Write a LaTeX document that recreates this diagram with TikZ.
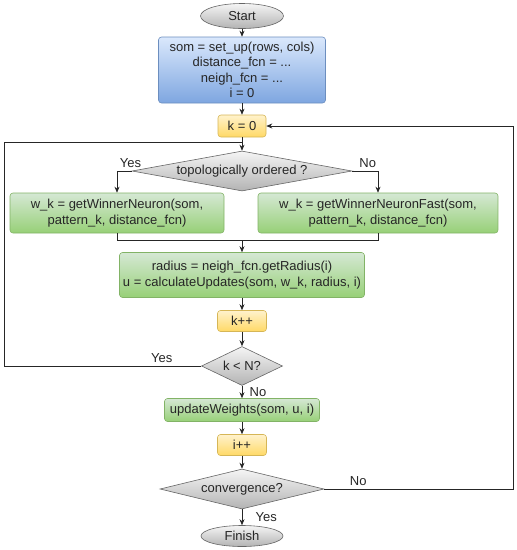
\documentclass[tikz,border=0pt]{standalone}
\usepackage{fontspec}
\setmainfont{Liberation Sans}
\usetikzlibrary{arrows.meta,shapes.geometric}
\usepackage{xcolor}
\definecolor{bluetop}{HTML}{DAE8FC}
\definecolor{bluebot}{HTML}{7EA6E0}
\definecolor{blueline}{HTML}{6C8EBF}
\definecolor{greentop}{HTML}{D5E8D4}
\definecolor{greenbot}{HTML}{97D077}
\definecolor{greenline}{HTML}{82B366}
\definecolor{yellowtop}{HTML}{FFF2CC}
\definecolor{yellowbot}{HTML}{FFD966}
\definecolor{yellowline}{HTML}{D6B656}
\definecolor{greytop}{HTML}{F5F5F5}
\definecolor{greybot}{HTML}{B3B3B3}
\definecolor{greyline}{HTML}{666666}

\begin{document}
\begin{tikzpicture}[x=1pt,y=-1pt,>={Stealth[length=6pt,width=5pt]},
  font=\fontsize{13}{15.5}\selectfont, text=black!85,
  box/.style={draw, rounded corners=3pt, line width=0.6pt, align=center, inner sep=1pt},
  bluebox/.style={box, draw=blueline, top color=bluetop, bottom color=bluebot},
  greenbox/.style={box, draw=greenline, top color=greentop, bottom color=greenbot},
  yellowbox/.style={box, draw=yellowline, top color=yellowtop, bottom color=yellowbot},
  term/.style={ellipse, draw=greyline, line width=0.6pt, top color=greytop, bottom color=greybot, inner sep=0pt},
  decision/.style={diamond, draw=greyline, line width=0.6pt, top color=greytop, bottom color=greybot, inner sep=0pt},
  link/.style={draw=black!85, line width=0.7pt}]
  \useasboundingbox (0,0) rectangle (517,550);

  \node (start)  [term, minimum width=83pt, minimum height=25pt] at (242,16) {Start};
  \node (init)   [bluebox, minimum width=167pt, minimum height=66pt] at (242,70)
    {som = set\_up(rows, cols)\\ distance\_fcn = ...\\ neigh\_fcn = ...\\ i = 0};
  \node (kzero)  [yellowbox, minimum width=48pt, minimum height=22pt] at (242,126) {k = 0};
  \node (topo)   [decision, shape aspect=5.5, minimum width=220pt, minimum height=40pt] at (242,171) {topologically ordered ?};
  \node (win)    [greenbox, minimum width=214pt, minimum height=40pt] at (117,213)
    {w\_k = getWinnerNeuron(som,\\ pattern\_k, distance\_fcn)};
  \node (wfast)  [greenbox, minimum width=240pt, minimum height=40pt] at (378,213)
    {w\_k = getWinnerNeuronFast(som,\\ pattern\_k, distance\_fcn)};
  \node (radius) [greenbox, minimum width=245pt, minimum height=45pt] at (242,275)
    {radius = neigh\_fcn.getRadius(i)\\ u = calculateUpdates(som, w\_k, radius, i)};
  \node (kinc)   [yellowbox, minimum width=49pt, minimum height=21pt] at (242,321) {k++};
  \node (kless)  [decision, shape aspect=2, minimum width=81pt, minimum height=39pt] at (242,366) {k < N?};
  \node (upd)    [greenbox, minimum width=155pt, minimum height=23pt] at (242,410) {updateWeights(som, u, i)};
  \node (iinc)   [yellowbox, minimum width=49pt, minimum height=21pt] at (242,445) {i++};
  \node (conv)   [decision, shape aspect=4.1, minimum width=164pt, minimum height=40pt] at (242,489) {convergence?};
  \node (finish) [term, minimum width=82pt, minimum height=21pt] at (242,536) {Finish};

  \coordinate (merge) at (242,240);
  \coordinate (lft) at (4,142);
  \coordinate (rgt) at (513,126);

  \draw[link,->] (start) -- (init);
  \draw[link,->] (init) -- (kzero);
  \draw[link,->] (kzero) -- (topo);
  \draw[link,->] (topo.west) -| node[pos=0.04, above] {Yes} (win);
  \draw[link,->] (topo.east) -| node[pos=0.3, above] {No} (wfast);
  \draw[link] (win.south) |- (merge);
  \draw[link] (wfast.south) |- (merge);
  \draw[link,->] (merge) -- (radius);
  \draw[link,->] (radius) -- (kinc);
  \draw[link,->] (kinc) -- (kless);
  \draw[link] (kless.west) -| node[pos=0.1, above] {Yes} (lft) -- (lft -| kzero);
  \draw[link,->] (kless) -- node[right, xshift=4pt] {No} (upd);
  \draw[link,->] (upd) -- (iinc);
  \draw[link,->] (iinc) -- (conv);
  \draw[link,->] (conv) -- node[right, xshift=10pt] {Yes} (finish);
  \draw[link,->] (conv.east) -| node[pos=0.09, above] {No} (rgt) -- (kzero);
\end{tikzpicture}
\end{document}
